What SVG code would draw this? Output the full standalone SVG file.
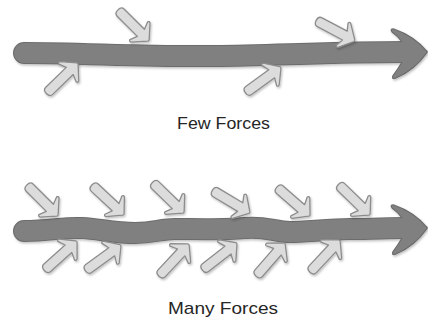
<svg xmlns="http://www.w3.org/2000/svg" xmlns:xlink="http://www.w3.org/1999/xlink" width="428" height="320" viewBox="0 0 428 320">
<style>
.shaft-o{fill:none;stroke:#6c6c6c;stroke-width:22;stroke-linecap:round;stroke-linejoin:round}
.shaft{fill:none;stroke:#808080;stroke-width:20;stroke-linecap:round;stroke-linejoin:round}
.head{fill:#808080;stroke:#6c6c6c;stroke-width:1.2;stroke-linejoin:round}
.force{fill:#dcdcdc;stroke:#8c8c8c;stroke-width:1.3;stroke-linejoin:round}
.label{font-family:"Liberation Sans",Arial,sans-serif;font-size:17px;fill:#262626;text-anchor:middle}
</style>
<defs>
<filter id="sh" x="-20%" y="-20%" width="140%" height="140%">
<feDropShadow dx="1" dy="1.5" stdDeviation="1" flood-color="#000" flood-opacity="0.25"/>
</filter>
<path id="f" class="force" d="M -40,-5 L -11.5,-5 L -14.5,-12.5 Q -14,-14.5 -12,-13.5 L -0.8,-1 Q 0,0 -0.8,1 L -12,13.5 Q -14,14.5 -14.5,12.5 L -11.5,5 L -40,5 Q -44,5 -44,0 Q -44,-5 -40,-5 Z"/>
<path id="hd" class="head" d="M 402,-10 Q 398,-16 392,-20 Q 389.5,-23.5 394,-23 Q 414,-16 426.5,-1.2 Q 428,0 426.5,1.2 Q 415,18 396,26 Q 391,28 393,23.5 Q 398,17 402,10"/>
</defs>
<g id="connectors"></g>
<g id="few-forces-arrow" filter="url(#sh)">
<path class="shaft-o" d="M 24,53 C 80,53 150,57 214,56 S 340,52 405,52"/>
<path class="shaft" d="M 24,53 C 80,53 150,57 214,56 S 340,52 405,52"/>
<use xlink:href="#hd" href="#hd" transform="translate(0,52)"/>
</g>
<g id="few-force-1" filter="url(#sh)"><use href="#f" xlink:href="#f" transform="translate(149,41) rotate(45)"/></g>
<g id="few-force-2" filter="url(#sh)"><use href="#f" xlink:href="#f" transform="translate(78,63) rotate(-44)"/></g>
<g id="few-force-3" filter="url(#sh)"><use href="#f" xlink:href="#f" transform="translate(355,41) rotate(28)"/></g>
<g id="few-force-4" filter="url(#sh)"><use href="#f" xlink:href="#f" transform="translate(281,67) rotate(-36)"/></g>
<g id="few-label"><text class="label" x="223.5" y="129" textLength="93" lengthAdjust="spacingAndGlyphs">Few Forces</text></g>

<g id="many-forces-arrow" filter="url(#sh)">
<path class="shaft-o" d="M 24,231 C 50,231 65,227 82,228 S 115,233 135,233 S 160,229 175,229 S 225,230 245,228 S 275,232 290,232 S 330,229 350,229 S 390,228 405,228"/>
<path class="shaft" d="M 24,231 C 50,231 65,227 82,228 S 115,233 135,233 S 160,229 175,229 S 225,230 245,228 S 275,232 290,232 S 330,229 350,229 S 390,228 405,228"/>
<use xlink:href="#hd" href="#hd" transform="translate(0,228)"/>
</g>
<g id="many-force-a" filter="url(#sh)"><use href="#f" xlink:href="#f" transform="translate(58,216) rotate(45)"/></g>
<g id="many-force-b" filter="url(#sh)"><use href="#f" xlink:href="#f" transform="translate(124,215) rotate(43)"/></g>
<g id="many-force-c" filter="url(#sh)"><use href="#f" xlink:href="#f" transform="translate(184,213) rotate(44)"/></g>
<g id="many-force-d" filter="url(#sh)"><use href="#f" xlink:href="#f" transform="translate(250,213) rotate(31)"/></g>
<g id="many-force-e" filter="url(#sh)"><use href="#f" xlink:href="#f" transform="translate(310,216) rotate(41)"/></g>
<g id="many-force-f" filter="url(#sh)"><use href="#f" xlink:href="#f" transform="translate(370,215) rotate(44)"/></g>
<g id="many-force-g" filter="url(#sh)"><use href="#f" xlink:href="#f" transform="translate(77,241) rotate(-42)"/></g>
<g id="many-force-h" filter="url(#sh)"><use href="#f" xlink:href="#f" transform="translate(121,245) rotate(-36)"/></g>
<g id="many-force-i" filter="url(#sh)"><use href="#f" xlink:href="#f" transform="translate(189,244) rotate(-47)"/></g>
<g id="many-force-j" filter="url(#sh)"><use href="#f" xlink:href="#f" transform="translate(237,243) rotate(-38)"/></g>
<g id="many-force-k" filter="url(#sh)"><use href="#f" xlink:href="#f" transform="translate(285,243) rotate(-49)"/></g>
<g id="many-force-l" filter="url(#sh)"><use href="#f" xlink:href="#f" transform="translate(340,240) rotate(-47)"/></g>
<g id="many-label"><text class="label" x="223" y="314" textLength="110" lengthAdjust="spacingAndGlyphs">Many Forces</text></g>
</svg>
